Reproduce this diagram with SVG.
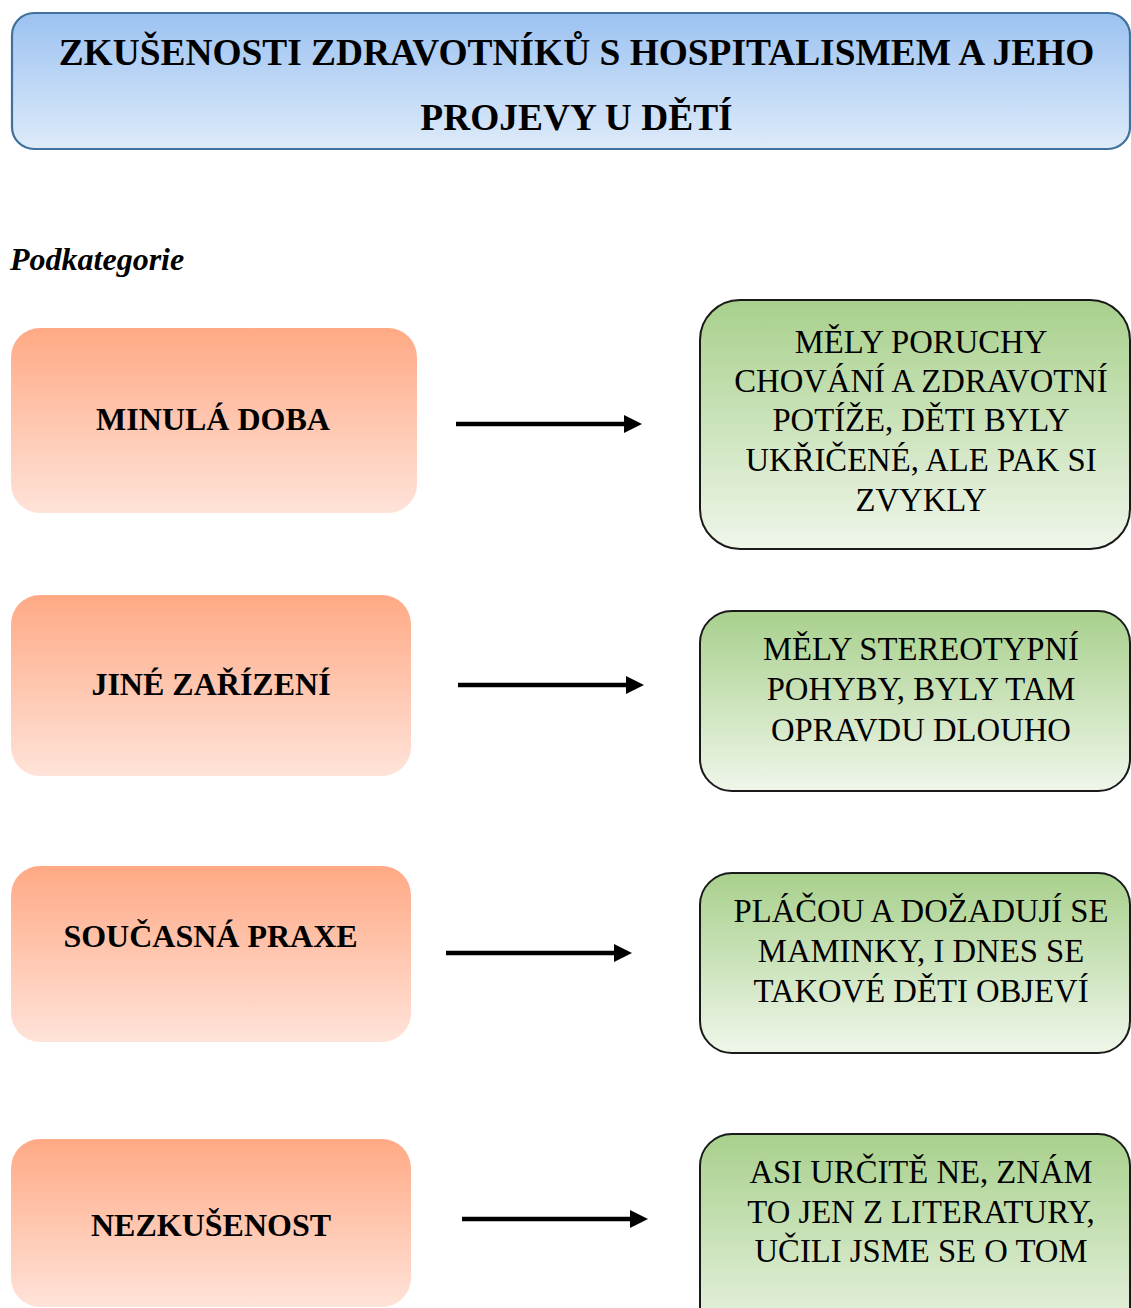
<svg xmlns="http://www.w3.org/2000/svg" width="1131" height="1308" viewBox="0 0 1131 1308">
  <defs>
    <linearGradient id="gTitle" x1="0" y1="0" x2="0" y2="1">
      <stop offset="0" stop-color="#9CC2F1"/>
      <stop offset="1" stop-color="#DEEBFA"/>
    </linearGradient>
    <linearGradient id="gOrange" x1="0" y1="0" x2="0" y2="1">
      <stop offset="0" stop-color="#FFA985"/>
      <stop offset="1" stop-color="#FFE3D9"/>
    </linearGradient>
    <linearGradient id="gGreen" x1="0" y1="0" x2="0" y2="1">
      <stop offset="0" stop-color="#A8D08C"/>
      <stop offset="1" stop-color="#EFF6EA"/>
    </linearGradient>
    <marker id="head" viewBox="0 0 10 10" refX="0" refY="5" markerWidth="4" markerHeight="4" markerUnits="strokeWidth" orient="auto">
      <path d="M0,0 L10,5 L0,10 Z" fill="#000"/>
    </marker>
  </defs>
  <style>
    .title { font-family: "Liberation Serif", "Times New Roman", serif; font-weight: bold; font-size: 37.4px; fill: #000; text-anchor: middle; }
    .sub { font-family: "Liberation Serif", "Times New Roman", serif; font-weight: bold; font-style: italic; font-size: 32px; fill: #000; }
    .cat { fill: url(#gOrange); }
    .catText { font-family: "Liberation Serif", "Times New Roman", serif; font-weight: bold; font-size: 32px; fill: #000; text-anchor: middle; }
    .res { fill: url(#gGreen); stroke: #1A1A1A; stroke-width: 2; }
    .resText { font-family: "Liberation Serif", "Times New Roman", serif; font-size: 32.7px; fill: #000; text-anchor: middle; }
    .arrow { stroke: #000; stroke-width: 4.5; fill: none; marker-end: url(#head); }
  </style>

  <rect width="1131" height="1308" fill="#FFFFFF"/>

  <g id="title">
    <rect x="12" y="13" width="1118" height="136" rx="22" fill="url(#gTitle)" stroke="#41719C" stroke-width="2.2"/>
    <text class="title" x="576.5" y="65">ZKUŠENOSTI ZDRAVOTNÍKŮ S HOSPITALISMEM A JEHO</text>
    <text class="title" x="576.5" y="130">PROJEVY U DĚTÍ</text>
  </g>

  <g id="subtitle">
    <text class="sub" x="10" y="270">Podkategorie</text>
  </g>

  <!-- subcategories -->
  <g id="cat-minula-doba">
    <rect class="cat" x="11" y="328" width="406" height="185" rx="29"/>
    <text class="catText" x="213" y="430">MINULÁ DOBA</text>
  </g>
  <g id="cat-jine-zarizeni">
    <rect class="cat" x="11" y="595" width="400" height="181" rx="29"/>
    <text class="catText" x="211" y="695">JINÉ ZAŘÍZENÍ</text>
  </g>
  <g id="cat-soucasna-praxe">
    <rect class="cat" x="11" y="866" width="400" height="176" rx="29"/>
    <text class="catText" x="210.5" y="947">SOUČASNÁ PRAXE</text>
  </g>
  <g id="cat-nezkusenost">
    <rect class="cat" x="11" y="1139" width="400" height="168" rx="29"/>
    <text class="catText" x="211" y="1236">NEZKUŠENOST</text>
  </g>

  <!-- statements -->
  <g id="res-1">
    <rect class="res" x="700" y="300" width="430" height="249" rx="40"/>
    <text class="resText" x="921" y="353">MĚLY PORUCHY</text>
    <text class="resText" x="921" y="392">CHOVÁNÍ A ZDRAVOTNÍ</text>
    <text class="resText" x="921" y="431">POTÍŽE, DĚTI BYLY</text>
    <text class="resText" x="921" y="471">UKŘIČENÉ, ALE PAK SI</text>
    <text class="resText" x="921" y="511">ZVYKLY</text>
  </g>
  <g id="res-2">
    <rect class="res" x="700" y="611" width="430" height="180" rx="32"/>
    <text class="resText" x="921" y="660">MĚLY STEREOTYPNÍ</text>
    <text class="resText" x="921" y="700">POHYBY, BYLY TAM</text>
    <text class="resText" x="921" y="741">OPRAVDU DLOUHO</text>
  </g>
  <g id="res-3">
    <rect class="res" x="700" y="873" width="430" height="180" rx="32"/>
    <text class="resText" x="921" y="922">PLÁČOU A DOŽADUJÍ SE</text>
    <text class="resText" x="921" y="962">MAMINKY, I DNES SE</text>
    <text class="resText" x="921" y="1002">TAKOVÉ DĚTI OBJEVÍ</text>
  </g>
  <g id="res-4">
    <rect class="res" x="700" y="1134" width="430" height="220" rx="32"/>
    <text class="resText" x="921" y="1183">ASI URČITĚ NE, ZNÁM</text>
    <text class="resText" x="921" y="1223">TO JEN Z LITERATURY,</text>
    <text class="resText" x="921" y="1262">UČILI JSME SE O TOM</text>
  </g>

  <g id="connectors">
    <line class="arrow" x1="456" y1="424" x2="624" y2="424"/>
    <line class="arrow" x1="458" y1="685" x2="626" y2="685"/>
    <line class="arrow" x1="446" y1="953" x2="614" y2="953"/>
    <line class="arrow" x1="462" y1="1219" x2="630" y2="1219"/>
  </g>
</svg>
